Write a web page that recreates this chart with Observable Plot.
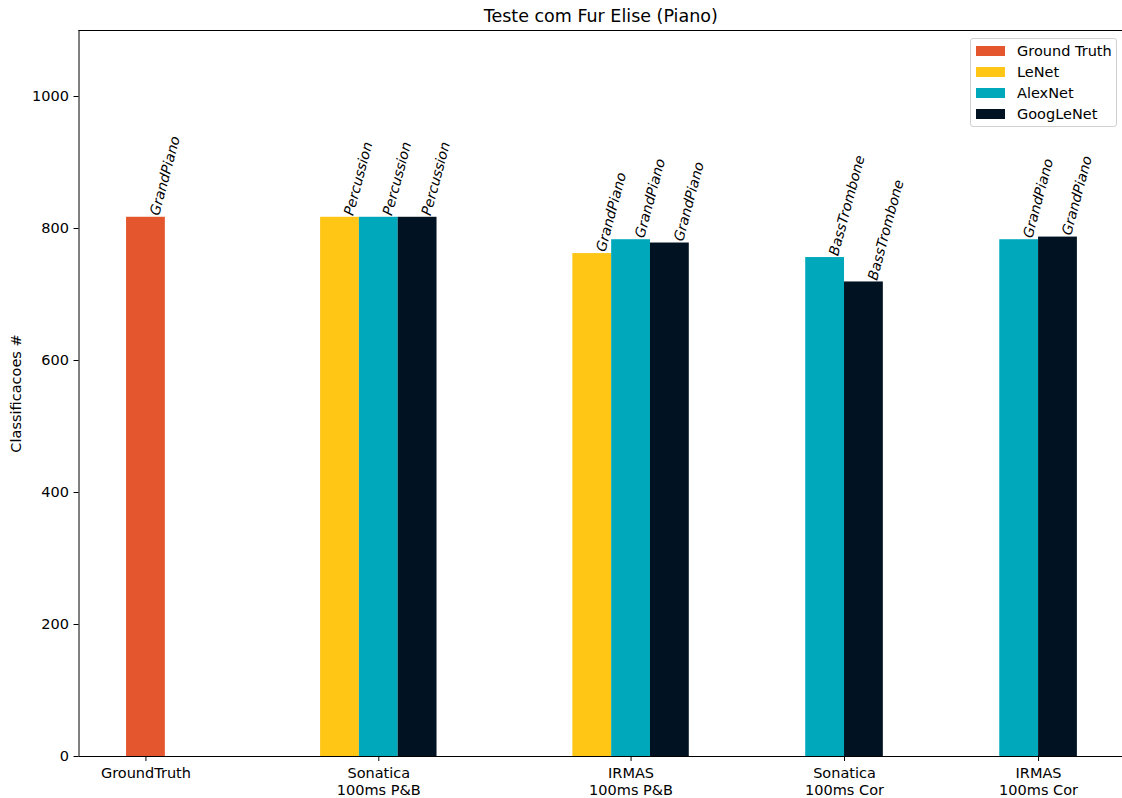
<!DOCTYPE html>
<html>
<head>
<meta charset="utf-8">
<script src="https://cdn.jsdelivr.net/npm/d3@7"></script>
<script src="https://cdn.jsdelivr.net/npm/@observablehq/plot@0.6"></script>
<style>
  html, body { margin: 0; padding: 0; background: #fff; }
  #wrap { position: relative; width: 1122px; height: 798px; font-family: "DejaVu Sans", sans-serif; }
  #legend {
    position: absolute; left: 970px; top: 38px; width: 145px; height: 87px;
    border: 1px solid #d0d0d0; border-radius: 3px; background: rgba(255,255,255,0.8);
    font-size: 14.5px; color: #000;
  }
  #legend .row { position: absolute; left: 0; height: 21px; display: flex; align-items: center; }
  #legend .sw { width: 29px; height: 10px; margin-left: 5px; margin-right: 12px; }
</style>
</head>
<body>
<div id="wrap"><div id="legend"></div></div>
<script>
// Test groups and their positions along the x axis
const groups = ["GroundTruth", "Sonatica\n100ms P&B", "IRMAS\n100ms P&B", "Sonatica\n100ms Cor", "IRMAS\n100ms Cor"];
const groupPos = [0, 1.2, 2.5, 3.6, 4.6];

// Series (model) names and colours
const series = ["Ground Truth", "LeNet", "AlexNet", "GoogLeNet"];
const colors = ["#E4572E", "#FFC616", "#00A8BB", "#011222"];

// Number of classifications per group (null = not evaluated)
const groundTruthValues = [817, null, null, null, null];
const lenetValues       = [null, 817, 762, null, null];
const alexnetValues     = [null, 817, 783, 756, 783];
const googlenetValues   = [null, 817, 778, 719, 787];

// Predicted class shown above each bar
const groundTruthLabels = ["GrandPiano", null, null, null, null];
const lenetLabels       = [null, "Percussion", "GrandPiano", null, null];
const alexnetLabels     = [null, "Percussion", "GrandPiano", "BassTrombone", "GrandPiano"];
const googlenetLabels   = [null, "Percussion", "GrandPiano", "BassTrombone", "GrandPiano"];

const yTicks = [0, 200, 400, 600, 800, 1000];
const title = "Teste com Fur Elise (Piano)";
const yLabel = "Classificacoes #";

const barWidth = 0.2;
const xDomain = [-0.345, 5.0325];
const yDomain = [0, 1100];

// Build one row per drawn bar; bars of a group are centred on its tick
const valueSets = [groundTruthValues, lenetValues, alexnetValues, googlenetValues];
const labelSets = [groundTruthLabels, lenetLabels, alexnetLabels, googlenetLabels];
const bars = [];
groups.forEach((g, gi) => {
  const present = series.map((s, si) => si).filter(si => valueSets[si][gi] != null);
  present.forEach((si, k) => {
    const cx = groupPos[gi] + (k - (present.length - 1) / 2) * barWidth;
    bars.push({
      series: series[si],
      x1: cx - barWidth / 2,
      x2: cx + barWidth / 2,
      cx,
      value: valueSets[si][gi],
      label: labelSets[si][gi]
    });
  });
});

const chart = Plot.plot({
  width: 1122,
  height: 798,
  marginLeft: 78.5,
  marginRight: 0,
  marginTop: 30,
  marginBottom: 42,
  style: { fontFamily: "DejaVu Sans", fontSize: "14.5px", color: "#000", background: "#fff" },
  x: { type: "linear", domain: xDomain },
  y: { domain: yDomain },
  color: { domain: series, range: colors },
  marks: [
    Plot.rect(bars, { x1: "x1", x2: "x2", y1: 0, y2: "value", fill: "series" }),
    Plot.text(bars, {
      x: "cx", y: "value", text: "label",
      rotate: -75, textAnchor: "start", lineAnchor: "bottom",
      dx: 13, dy: -1, fontSize: 14, fontStyle: "italic", fill: "#000"
    }),
    Plot.axisY({
      ticks: yTicks, tickFormat: d => String(d), tickSize: 5, tickPadding: 5, fontSize: 14.5,
      label: yLabel, labelAnchor: "center", labelArrow: "none", labelOffset: 68
    }),
    Plot.axisX({
      ticks: groupPos, tickFormat: (d, i) => groups[i],
      tickSize: 5, tickPadding: 5, fontSize: 14.5, lineHeight: 1.15, label: null
    }),
    Plot.ruleY([yDomain[0]], { stroke: "#000", strokeWidth: 1 }),
    Plot.ruleY([yDomain[1]], { stroke: "#000", strokeWidth: 1 }),
    Plot.ruleX([xDomain[0]], { stroke: "#000", strokeWidth: 1 }),
    Plot.text([title], { frameAnchor: "top", lineAnchor: "bottom", dy: -9, fontSize: 17.5, fill: "#000" })
  ]
});

const wrap = document.getElementById("wrap");
wrap.insertBefore(chart, wrap.firstChild);

// Legend box
const legend = d3.select("#legend");
series.forEach((s, i) => {
  const row = legend.append("div").attr("class", "row").style("top", (1 + i * 21.2) + "px");
  row.append("div").attr("class", "sw").style("background", colors[i]);
  row.append("span").text(s);
});
</script>
</body>
</html>
